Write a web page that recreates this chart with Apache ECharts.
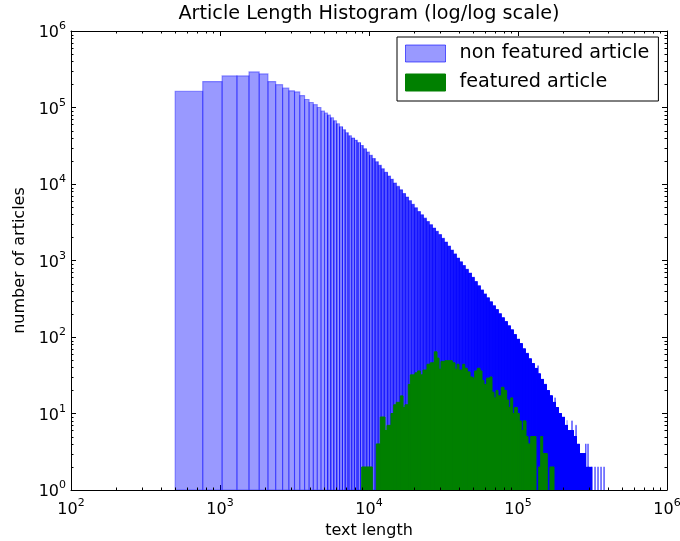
<!DOCTYPE html>
<html><head><meta charset="utf-8">
<script src="https://cdn.jsdelivr.net/npm/echarts@6/dist/echarts.min.js"></script>
<style>html,body{margin:0;padding:0;background:#fff}#c{width:680px;height:541px}</style>
</head><body><div id="c"></div>
<script>
// ---------- data ----------
// non-featured histogram: linear bins of equal width, shown on log/log axes
const blueBinStart = 500;
const blueBinWidth = 266.33;
// contiguous bars: the first 17 real bins, then narrow groups of neighbouring bins (envelope)
const blueEdges = [500, 766, 1033, 1299, 1565, 1832, 2098, 2364, 2631, 2897, 3163, 3430, 3696, 3962, 4229, 4495, 4761, 5028,
  5267, 5516, 5778, 6052, 6339, 6640, 6955, 7285, 7630, 7992, 8371, 8768, 9184, 9620, 10077, 10555, 11055, 11580, 12129,
  12705, 13308, 13939, 14600, 15293, 16019, 16779, 17575, 18409, 19282, 20197, 21155, 22159, 23210, 24311, 25464, 26672,
  27938, 29263, 30652, 32106, 33629, 35225, 36896, 38646, 40480, 42400, 44412, 46519, 48726, 51038, 53459, 55996, 58652,
  61435, 64350, 67403, 70601, 73951, 77459, 81134, 84983, 89015, 93238, 97662, 102296, 107149, 112233, 117558, 123135,
  128977, 135096, 141506, 148220, 155252, 162618, 170333, 178414, 186879, 195745, 205032, 214760, 224949, 235622, 246801,
  258510, 270775, 283622, 297078, 311173];
const blueCounts = [163000, 218000, 259000, 259000, 292000, 275000, 218000, 199000, 179000, 165000, 160000, 143000, 127000,
  116000, 109000, 100000, 90000,
  84400, 79400, 73300, 67000, 61200, 55900, 51100, 46700, 42700, 39800, 37200, 34700, 31800, 28900, 26200, 23800, 21500,
  19500, 17600, 15800, 14200, 12700, 11500, 10300, 9310, 8380, 7520, 6750, 6060, 5440, 4880, 4380, 3960, 3580, 3240, 2940,
  2660, 2410, 2180, 1950, 1740, 1550, 1370, 1220, 1080, 961, 860, 767, 687, 604, 532, 468, 413, 366, 326, 289, 256, 228,
  202, 179, 159, 140, 124, 108, 94, 82, 70, 61, 52, 45, 39, 33, 28, 24, 20, 17, 14, 12, 10, 9, 7, 6, 6, 5, 4, 3, 3, 2, 2];
// isolated taller single bins in the noisy tail
const blueSpikeStarts = [136200, 177120, 213300, 230300, 245100, 285000, 295000, 313800, 328650, 344300, 360600, 377900];
const blueSpikeCounts = [42, 16, 8, 8, 7, 4, 4, 2, 2, 2, 2, 2];

// featured histogram
const greenEdges = [8935, 10522, 11194, 11905, 12807, 13210, 14048, 14647, 15246, 16228, 16918, 17449, 18363, 18938, 20356,
  21223, 22095, 23036, 24511, 25792, 27436, 28605, 29499, 30429, 32369, 36244, 37787, 38972, 40190, 42560, 43895, 45686,
  47643, 49659, 51215, 53308, 55590, 57332, 59130, 61650, 64883, 66917, 69015, 71178, 73423, 77254, 80538, 83972, 86604,
  89337, 92136, 95047, 98923, 102023, 105220, 108540, 113170, 116720, 121690, 125520, 132070, 137690, 142020, 146500,
  151110, 157280, 163970, 174430];
const greenCounts = [2, 0, 4, 9, 6, 7, 10, 13, 14, 17, 12, 13, 24, 32, 34, 36, 32, 37, 44, 46, 64, 53, 38, 48, 49, 46, 38,
  44, 37, 44, 39, 35, 30, 29, 36, 39, 36, 27, 24, 29, 30, 19, 16, 20, 17, 22, 20, 15, 12, 16, 10, 12, 10, 8, 6, 8, 5, 4,
  5, 5, 0, 2, 5, 3, 3, 0, 2];

const xTickLabels = ['{b|10}{s|2}', '{b|10}{s|3}', '{b|10}{s|4}', '{b|10}{s|5}', '{b|10}{s|6}'];
const yTickLabels = ['{b|10}{s|0}', '{b|10}{s|1}', '{b|10}{s|2}', '{b|10}{s|3}', '{b|10}{s|4}', '{b|10}{s|5}', '{b|10}{s|6}'];

// ---------- build ----------
const blueData = [];
for (let i = 0; i < blueCounts.length; i++) blueData.push([blueEdges[i], blueEdges[i + 1], blueCounts[i]]);
for (let i = 0; i < blueSpikeStarts.length; i++) blueData.push([blueSpikeStarts[i], blueSpikeStarts[i] + blueBinWidth, blueSpikeCounts[i]]);
const greenData = [];
for (let i = 0; i < greenCounts.length; i++) greenData.push([greenEdges[i], greenEdges[i + 1], greenCounts[i]]);

const FONT = 'DejaVu Sans';
const chart = echarts.init(document.getElementById('c'), null, {renderer: 'canvas'});

function renderBlue(params, api) {
  const x0 = api.value(0), x1 = api.value(1), c = api.value(2);
  if (!(c > 1)) return null;
  const tl = api.coord([x0, c]), br = api.coord([x1, 1]);
  const children = [{
    type: 'rect',
    shape: {x: tl[0], y: tl[1], width: br[0] - tl[0], height: br[1] - tl[1]},
    style: {fill: '#0000ff', stroke: '#0000ff', lineWidth: 1.1, opacity: 0.4}
  }];
  // inner bin boundaries of grouped bars (each boundary = two overlapping bar edges)
  let k = Math.ceil((x0 - blueBinStart) / blueBinWidth + 0.01);
  for (; blueBinStart + k * blueBinWidth < x1 - 0.01 * blueBinWidth; k++) {
    const px = api.coord([blueBinStart + k * blueBinWidth, 1])[0];
    children.push({type: 'line', shape: {x1: px, y1: tl[1], x2: px, y2: br[1]},
      style: {stroke: '#0000ff', lineWidth: 1.1, opacity: 0.64}});
  }
  return {type: 'group', children: children};
}
function renderGreen(params, api) {
  const x0 = api.value(0), x1 = api.value(1), c = api.value(2);
  if (!(c > 1)) return null;
  const tl = api.coord([x0, c]), br = api.coord([x1, 1]);
  return {type: 'rect', shape: {x: tl[0], y: tl[1], width: br[0] - tl[0], height: br[1] - tl[1]},
    style: {fill: '#008000', stroke: '#008000', lineWidth: 1}};
}

const rich = {
  b: {fontSize: 16, fontFamily: FONT, color: '#000', verticalAlign: 'bottom', lineHeight: 20},
  s: {fontSize: 11, fontFamily: FONT, color: '#000', verticalAlign: 'top', lineHeight: 20}
};
const tick = {show: true, inside: true, length: 5, lineStyle: {color: '#000', width: 1}};
const axLine = {show: true, lineStyle: {color: '#000', width: 1}};

chart.setOption({
  animation: false,
  textStyle: {fontFamily: FONT},
  title: {text: 'Article Length Histogram (log/log scale)', left: 369, top: 5, padding: 0, textAlign: 'center',
    textStyle: {fontSize: 19.2, fontWeight: 'normal', color: '#000', fontFamily: FONT}},
  legend: {
    left: 397, top: 37, orient: 'vertical', itemWidth: 40, itemHeight: 17, itemGap: 10,
    padding: [7, 9, 9, 8], borderColor: '#000', borderWidth: 1, backgroundColor: '#fff', borderRadius: 0,
    textStyle: {fontSize: 19.2, color: '#000', fontFamily: FONT, padding: [0, 0, 0, 9]},
    selectedMode: false,
    data: [
      {name: 'non featured article', icon: 'rect', itemStyle: {color: 'rgba(0,0,255,0.4)', borderColor: 'rgba(0,0,255,0.6)', borderWidth: 1}},
      {name: 'featured article', icon: 'rect', itemStyle: {color: '#008000', borderColor: '#008000', borderWidth: 1}}
    ]
  },
  grid: {left: 71, right: 13, top: 31, bottom: 51, outerBoundsMode: 'none', containLabel: false},
  xAxis: [
    {type: 'log', logBase: 10, min: 100, max: 1e6, splitNumber: 4, position: 'bottom',
      name: 'text length', nameLocation: 'middle', nameGap: 33,
      nameTextStyle: {fontSize: 16, color: '#000', fontFamily: FONT},
      axisLine: axLine, axisTick: tick, splitLine: {show: false},
      axisLabel: {margin: 8, rich: rich, formatter: v => xTickLabels[Math.round(Math.log10(v)) - 2]}},
    {type: 'log', logBase: 10, min: 100, max: 1e6, splitNumber: 4, position: 'top',
      axisLine: axLine, axisTick: tick, splitLine: {show: false}, axisLabel: {show: false}}
  ],
  yAxis: [
    {type: 'log', logBase: 10, min: 1, max: 1e6, splitNumber: 6, position: 'left',
      name: 'number of articles', nameLocation: 'middle', nameGap: 43, nameRotate: 90,
      nameTextStyle: {fontSize: 16, color: '#000', fontFamily: FONT},
      axisLine: axLine, axisTick: tick, splitLine: {show: false},
      axisLabel: {margin: 5, rich: rich, formatter: v => yTickLabels[Math.round(Math.log10(v))]}},
    {type: 'log', logBase: 10, min: 1, max: 1e6, splitNumber: 6, position: 'right',
      axisLine: axLine, axisTick: tick, splitLine: {show: false}, axisLabel: {show: false}}
  ],
  series: [
    {type: 'custom', name: 'non featured article', renderItem: renderBlue, data: blueData,
      encode: {x: [0, 1], y: 2}, itemStyle: {color: 'rgba(0,0,255,0.4)'}, silent: true, clip: true},
    {type: 'custom', name: 'featured article', renderItem: renderGreen, data: greenData,
      encode: {x: [0, 1], y: 2}, itemStyle: {color: '#008000'}, silent: true, clip: true}
  ]
});

// minor log ticks (2..9 per decade) on all four sides
(function () {
  const g = [];
  const yb = chart.convertToPixel({yAxisIndex: 0}, 1), yt = chart.convertToPixel({yAxisIndex: 0}, 1e6);
  const xl = chart.convertToPixel({xAxisIndex: 0}, 100), xr = chart.convertToPixel({xAxisIndex: 0}, 1e6);
  const st = {stroke: '#000', lineWidth: 1};
  for (let d = 2; d < 6; d++) for (let m = 2; m < 10; m++) {
    const x = Math.round(chart.convertToPixel({xAxisIndex: 0}, m * Math.pow(10, d))) + 0.5;
    g.push({type: 'line', silent: true, z: 10, shape: {x1: x, y1: yb, x2: x, y2: yb - 2.5}, style: st});
    g.push({type: 'line', silent: true, z: 10, shape: {x1: x, y1: yt, x2: x, y2: yt + 2.5}, style: st});
  }
  for (let d = 0; d < 6; d++) for (let m = 2; m < 10; m++) {
    const y = Math.round(chart.convertToPixel({yAxisIndex: 0}, m * Math.pow(10, d))) + 0.5;
    g.push({type: 'line', silent: true, z: 10, shape: {x1: xl, y1: y, x2: xl + 2.5, y2: y}, style: st});
    g.push({type: 'line', silent: true, z: 10, shape: {x1: xr, y1: y, x2: xr - 2.5, y2: y}, style: st});
  }
  chart.setOption({graphic: g});
})();
</script></body></html>
